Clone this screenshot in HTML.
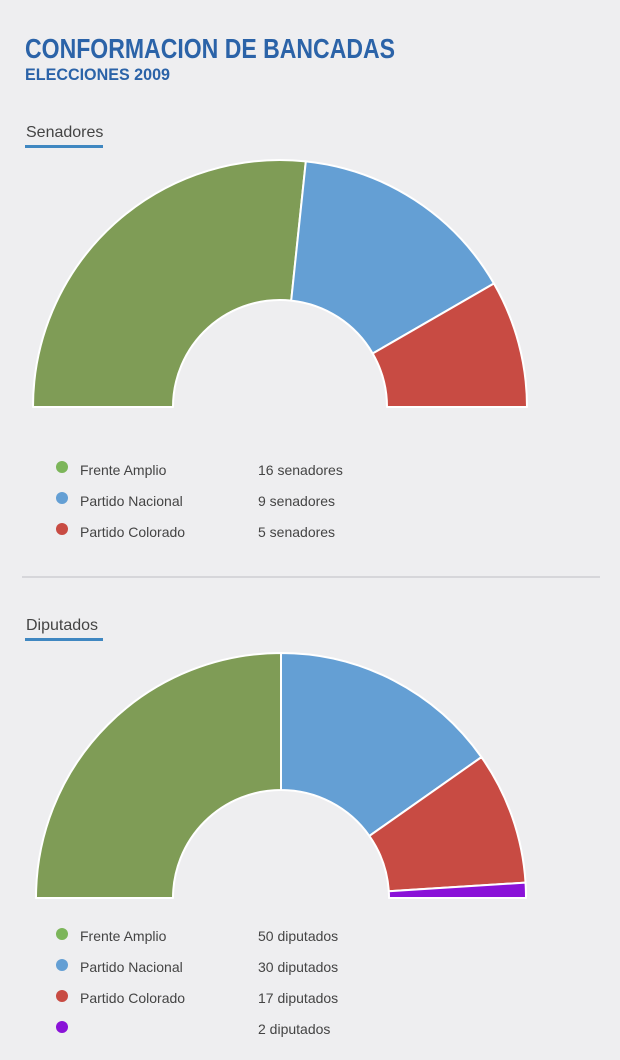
<!DOCTYPE html>
<html><head><meta charset="utf-8"><style>
html,body{margin:0;padding:0;background:#eeeef0;}
svg{display:block}
text{font-family:"Liberation Sans",sans-serif;}
</style></head><body>
<svg id="s" width="620" height="1060" xmlns="http://www.w3.org/2000/svg">
<rect width="620" height="1060" fill="#eeeef0"/>
<text x="25" y="58" font-size="28" font-weight="bold" fill="#2b63a8" textLength="370" lengthAdjust="spacingAndGlyphs">CONFORMACION DE BANCADAS</text>
<text x="25" y="80" font-size="17" font-weight="bold" fill="#2b63a8" textLength="145" lengthAdjust="spacingAndGlyphs">ELECCIONES 2009</text>
<text x="26" y="137" font-size="16" fill="#444">Senadores</text>
<rect x="25" y="145" width="78" height="3" fill="#3f87c1"/>
<g id="c1"></g>
<g font-size="14" fill="#444">
<circle cx="62" cy="467" r="6" fill="#7cb55a"/><text x="80" y="475">Frente Amplio</text><text x="258" y="475">16 senadores</text>
<circle cx="62" cy="498" r="6" fill="#649fd4"/><text x="80" y="506">Partido Nacional</text><text x="258" y="506">9 senadores</text>
<circle cx="62" cy="529" r="6" fill="#c84b43"/><text x="80" y="537">Partido Colorado</text><text x="258" y="537">5 senadores</text>
</g>
<rect x="22" y="576" width="578" height="2" fill="#d6d6da"/>
<text x="26" y="630" font-size="16" fill="#444">Diputados</text>
<rect x="25" y="638" width="78" height="3" fill="#3f87c1"/>
<g id="c2"></g>
<g font-size="14" fill="#444">
<circle cx="62" cy="934" r="6" fill="#7cb55a"/><text x="80" y="941">Frente Amplio</text><text x="258" y="941">50 diputados</text>
<circle cx="62" cy="965" r="6" fill="#649fd4"/><text x="80" y="972">Partido Nacional</text><text x="258" y="972">30 diputados</text>
<circle cx="62" cy="996" r="6" fill="#c84b43"/><text x="80" y="1003">Partido Colorado</text><text x="258" y="1003">17 diputados</text>
<circle cx="62" cy="1027" r="6" fill="#8a12d8"/><text x="258" y="1034">2 diputados</text>
</g>
</svg>
<script>
function draw(id,cx,cy,R,r,vals,cols){
  var g=document.getElementById(id),tot=vals.reduce(function(a,b){return a+b},0),a0=Math.PI,h='';
  vals.forEach(function(v,i){
    var a1=a0-Math.PI*v/tot;
    var p=function(rad,a){return (cx+rad*Math.cos(a)).toFixed(2)+' '+(cy-rad*Math.sin(a)).toFixed(2)};
    h+='<path d="M'+p(R,a0)+' A'+R+' '+R+' 0 0 1 '+p(R,a1)+' L'+p(r,a1)+' A'+r+' '+r+' 0 0 0 '+p(r,a0)+' Z" fill="'+cols[i]+'" stroke="#fff" stroke-width="2" stroke-linejoin="round"/>';
    a0=a1;
  });
  g.innerHTML=h;
}
draw('c1',280,407,247,107,[16,9,5],['#7f9c56','#649fd4','#c84b43']);
draw('c2',281,898,245,108,[50,30.5,17.5,2],['#7f9c56','#649fd4','#c84b43','#8a12d8']);
</script>
</body></html>
